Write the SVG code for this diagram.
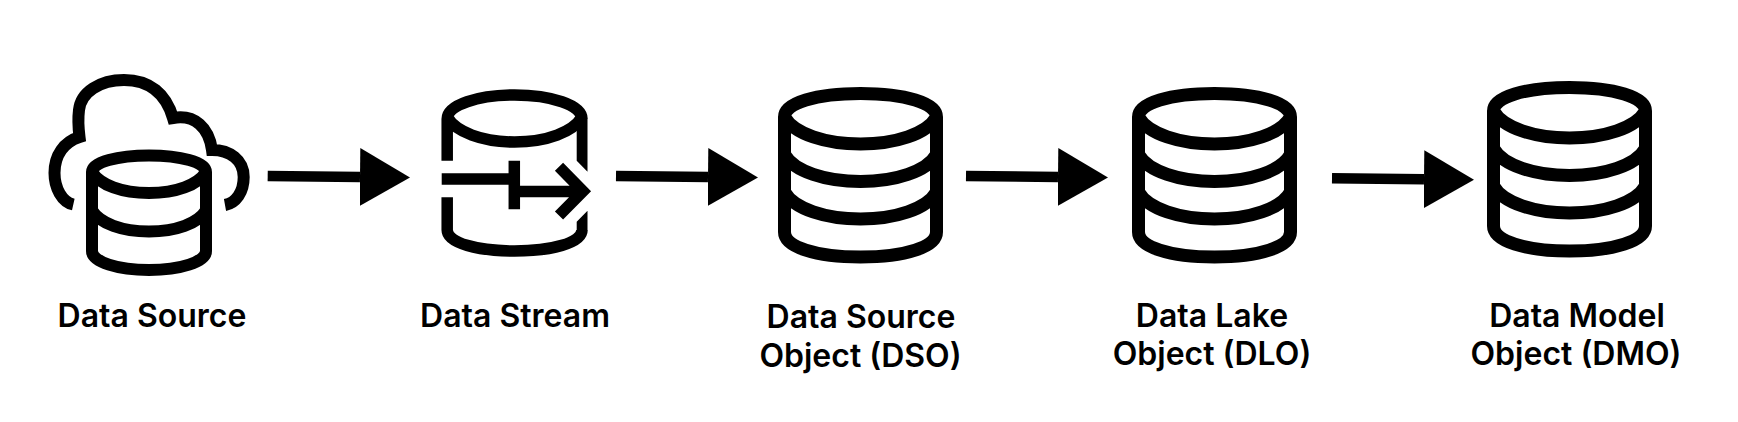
<svg xmlns="http://www.w3.org/2000/svg" width="1738" height="422" viewBox="0 0 1738 422">
<style>
.l{font-family:Inter,"Liberation Sans",sans-serif;font-weight:600;font-size:32px;fill:#000;text-anchor:middle}
.s{fill:none;stroke:#000;stroke-width:13}
.m{fill:none;stroke:#000;stroke-width:12}
.n{fill:none;stroke:#000;stroke-width:11.500}
.c{fill:none;stroke:#000;stroke-width:10.500}
</style>
<defs>
<symbol id="db" overflow="visible"><path class="s" d="M6.500 30C6.500 16 38 6.500 82.500 6.500S158.500 16 158.500 30V145C158.500 160 127 170 82.500 170S6.500 160 6.500 145ZM6.500 30C16 47 48 57 82.500 57S149 47 158.500 30M6.500 67.500C16 84.500 48 94.500 82.500 94.500S149 84.500 158.500 67.500M6.500 105C16 122 48 132 82.500 132S149 122 158.500 105"/></symbol>
<marker id="a" markerUnits="userSpaceOnUse" markerWidth="50" markerHeight="58" refX="0" refY="29" orient="auto"><path d="M0 0L50 29L0 58Z"/></marker>
</defs>
<rect width="1738" height="422" fill="#fff"/>
<g id="connectors">
<path class="c" d="M267.700 176L360 177" marker-end="url(#a)"/>
<path class="c" d="M616 176L708 177" marker-end="url(#a)"/>
<path class="c" d="M966 176L1058 177" marker-end="url(#a)"/>
<path class="c" d="M1332 178.300L1424 179.300" marker-end="url(#a)"/>
</g>
<g id="data-source">
<path class="m" d="M73.300 204.500C62 202 54.500 188 54.500 173C54.500 155 64 142 79.500 137C78 125 78 118 79 110C81 92 100 80 124 80C150 80 166 94 173 118C195 114 209 128 212 150C230 150 243.700 160 243.700 177C243.700 192 236 203 225 205"/>
<path class="m" d="M92 172C92 162 118 155.500 149 155.500S206 162 206 172V251C206 262 180 270 149 270S92 262 92 251ZM92 172C100 185 122 193 149 193S198 185 206 172M92 210.500C100 223.500 122 231.500 149 231.500S198 223.500 206 210.500"/>
</g>
<g id="data-stream">
<path class="n" d="M447.200 160.700V119C447.200 105 478 95 514.500 95S582 105 582 119M447.200 197.300V230C447.200 243 478 251 514.500 251S582 243 582 230M447.200 117C456 132 482 142 514.500 142S573 132 582 117"/>
<path d="M576.700 119H587.500V171.700L576.700 160.700ZM587.500 210.700V230H576.700V221.700Z"/>
<path class="n" d="M441.700 179H514.300M514.300 160.700V209.300M514.300 191.500H580M559 166.800L583 191.200L559 215.500"/>
</g>
<g id="dso"><use href="#db" x="778" y="87"/></g>
<g id="dlo"><use href="#db" x="1132" y="87"/></g>
<g id="dmo"><use href="#db" x="1487" y="81"/></g>
<text class="l" x="152" y="327">Data Source</text>
<text class="l" x="515" y="327">Data Stream</text>
<text class="l" x="861" y="328">Data Source</text>
<text class="l" x="860.500" y="367">Object (DSO)</text>
<text class="l" x="1212" y="326.500">Data Lake</text>
<text class="l" x="1212" y="365">Object (DLO)</text>
<text class="l" x="1577" y="326.500">Data Model</text>
<text class="l" x="1576" y="365">Object (DMO)</text>
</svg>
